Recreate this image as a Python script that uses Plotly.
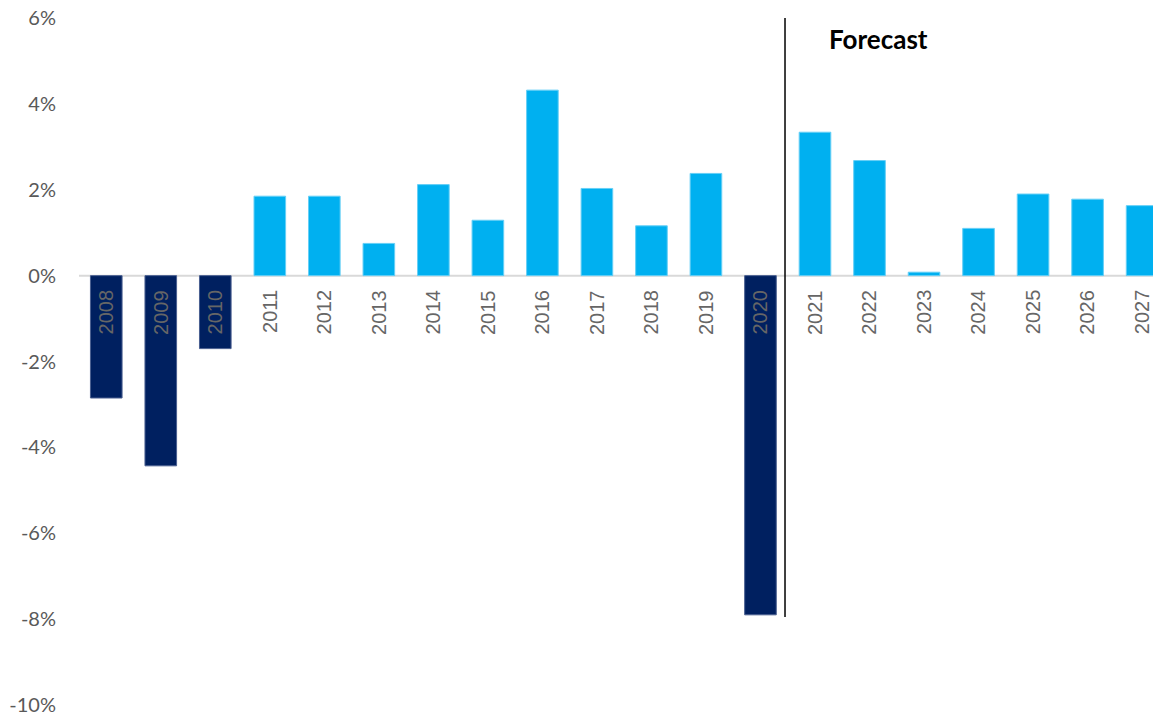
import plotly.graph_objects as go

# Annual growth, % (2021 onwards are forecasts)
years = [str(y) for y in range(2008, 2028)]
growth = [-2.85, -4.43, -1.70, 1.85, 1.85, 0.75, 2.12, 1.29, 4.32, 2.03,
          1.16, 2.38, -7.90, 3.34, 2.68, 0.08, 1.10, 1.90, 1.78, 1.63]

y_ticks = [6, 4, 2, 0, -2, -4, -6, -8, -10]
y_tick_text = [f"{v}%" for v in y_ticks]

POS = "#00B0F0"
NEG = "#002060"

x_idx = list(range(len(years)))
colors = [POS if v >= 0 else NEG for v in growth]
edges = ["#66CFF6" if v >= 0 else "#4A5F90" for v in growth]

fig = go.Figure()
fig.add_trace(go.Bar(
    x=x_idx, y=growth, width=0.58,
    marker=dict(color=colors, line=dict(color=edges, width=1)),
    hoverinfo="skip", showlegend=False,
))

# zero baseline
fig.add_shape(type="line", xref="x", yref="y", x0=-0.5, x1=19.6, y0=0, y1=0,
              line=dict(color="#D9D9D9", width=2), layer="below")

# forecast divider
fig.add_shape(type="line", xref="x", yref="y", x0=12.45, x1=12.45, y0=6, y1=-7.95,
              line=dict(color="#000000", width=1.5))

fig.add_annotation(x=13.22, y=5.5, xref="x", yref="y", text="<b>Forecast</b>",
                   showarrow=False, xanchor="left", yanchor="middle",
                   font=dict(family="Lato, Open Sans, sans-serif", size=26, color="#000000"))

# category labels below the baseline, rotated
for i, yr in enumerate(years):
    fig.add_annotation(x=i, y=0, xref="x", yref="y", text=yr, textangle=-90,
                       showarrow=False, xanchor="center", yanchor="top", yshift=-12,
                       font=dict(family="Liberation Sans, Arial, sans-serif", size=20,
                                 color="#666666"))

fig.update_layout(
    width=1153, height=715,
    margin=dict(l=79, r=0, t=18, b=10),
    plot_bgcolor="white", paper_bgcolor="white",
    bargap=0.42,
)
fig.update_xaxes(range=[-0.5, 19.2], showticklabels=False, showgrid=False,
                 zeroline=False, showline=False, ticks="")
fig.update_yaxes(range=[-10, 6], tickmode="array", tickvals=y_ticks, ticktext=y_tick_text,
                 showgrid=False, zeroline=False, showline=False, ticks="",
                 ticklabelstandoff=22, ticklabeloverflow="allow",
                 tickfont=dict(family="Lato, Open Sans, sans-serif", size=20, color="#595959"))

fig.write_html("out.html")
